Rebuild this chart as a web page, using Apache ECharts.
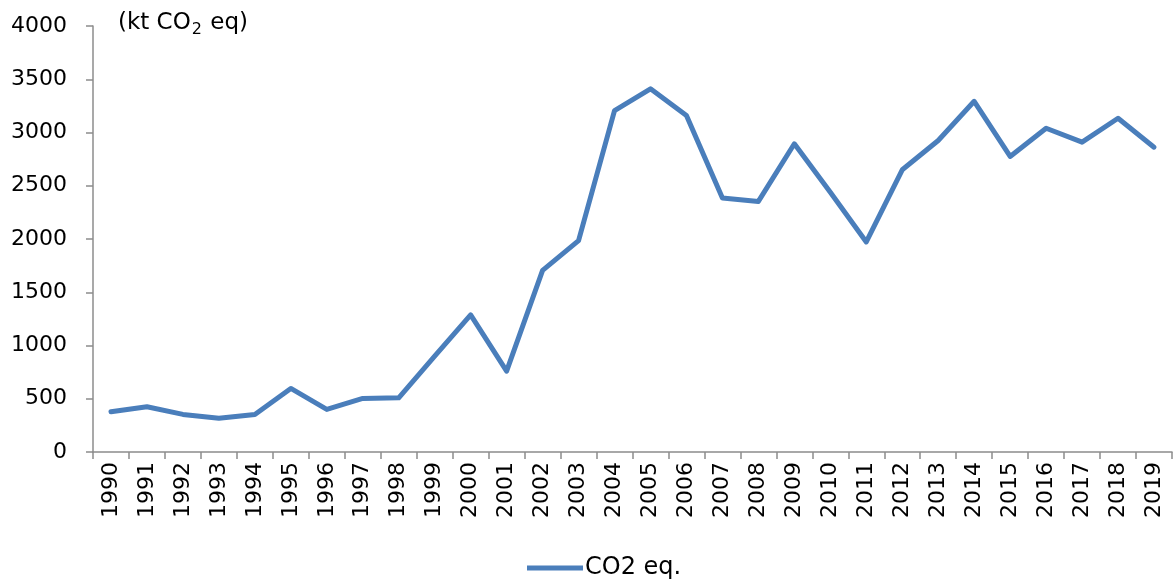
<!DOCTYPE html>
<html>
<head>
<meta charset="utf-8">
<script src="https://cdn.jsdelivr.net/npm/echarts@6/dist/echarts.min.js"></script>
<style>
  html, body { margin: 0; padding: 0; background: #fff; }
  #chart { width: 1176px; height: 585px; }
</style>
</head>
<body>
<div id="chart"></div>
<script>
// Annual emissions, kt CO2 eq
const years = ['1990','1991','1992','1993','1994','1995','1996','1997','1998','1999',
               '2000','2001','2002','2003','2004','2005','2006','2007','2008','2009',
               '2010','2011','2012','2013','2014','2015','2016','2017','2018','2019'];
const co2eq = [378, 425, 353, 316, 353, 597, 400, 503, 509, 900,
               1288, 759, 1706, 1985, 3206, 3410, 3160, 2384, 2353, 2894,
               2440, 1972, 2650, 2925, 3293, 2775, 3040, 2909, 3134, 2862];
const seriesName = 'CO2 eq.';

const font = 'Tahoma, "DejaVu Sans", Verdana, sans-serif';
const axisGray = '#8c8c8c';
const lineBlue = '#4a7ebb';

const chart = echarts.init(document.getElementById('chart'), null, { renderer: 'canvas' });
chart.setOption({
  animation: false,
  backgroundColor: '#ffffff',
  textStyle: { fontFamily: font, color: '#000' },
  title: {
    text: '{a|(kt CO}{s|2}{a| eq)}',
    left: 113,
    top: 4,
    textStyle: {
      fontWeight: 'normal',
      rich: {
        a: { fontFamily: font, fontSize: 23, fontWeight: 'normal', color: '#000' },
        s: { fontFamily: font, fontSize: 16, fontWeight: 'normal', color: '#000', padding: [13, 1, 0, 1] }
      }
    }
  },
  grid: { left: 93, right: 4, top: 26, bottom: 133, containLabel: false },
  legend: {
    bottom: 0,
    left: 522,
    itemWidth: 56,
    itemHeight: 5,
    itemGap: 4,
    textStyle: { fontFamily: font, fontSize: 24, color: '#000', padding: [0, 0, 0, -3] },
    data: [{ name: seriesName, icon: 'rect', itemStyle: { color: lineBlue } }]
  },
  xAxis: {
    type: 'category',
    data: years,
    boundaryGap: true,
    axisLine: { lineStyle: { color: axisGray, width: 1.5 } },
    axisTick: { show: true, alignWithLabel: false, length: 7, lineStyle: { color: axisGray, width: 1.5 } },
    axisLabel: { rotate: 90, fontSize: 22, fontFamily: font, color: '#000', margin: 10, interval: 0 },
    splitLine: { show: false }
  },
  yAxis: {
    type: 'value',
    min: 0,
    max: 4000,
    interval: 500,
    axisLine: { show: true, lineStyle: { color: axisGray, width: 1.5 } },
    axisTick: { show: true, inside: false, length: 7, lineStyle: { color: axisGray, width: 1.5 } },
    axisLabel: { fontSize: 22, fontFamily: font, color: '#000', margin: 26, formatter: v => String(v) },
    splitLine: { show: false }
  },
  series: [{
    name: seriesName,
    type: 'line',
    data: co2eq,
    symbol: 'none',
    lineStyle: { color: lineBlue, width: 5, join: 'round', cap: 'round' },
    itemStyle: { color: lineBlue }
  }]
});
</script>
</body>
</html>
